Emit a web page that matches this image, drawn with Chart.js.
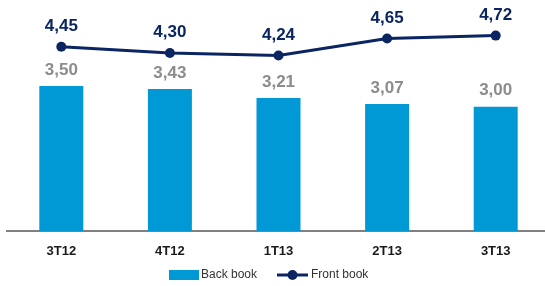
<!DOCTYPE html>
<html>
<head>
<meta charset="utf-8">
<script src="https://cdn.jsdelivr.net/npm/chart.js@4"></script>
<style>
  html, body { margin: 0; padding: 0; background: #fff; overflow: hidden; }
  #wrap { width: 545px; height: 286px; overflow: hidden; }
  canvas { display: block; }
</style>
</head>
<body>
<div id="wrap"><canvas id="chart" width="551" height="286"></canvas></div>
<script>
const quarters = ['3T12', '4T12', '1T13', '2T13', '3T13'];
const backBook = [3.50, 3.43, 3.21, 3.07, 3.00];
const frontBook = [4.45, 4.30, 4.24, 4.65, 4.72];

const BAR_BLUE = '#0099d6';
const NAVY = '#0a2562';
const FONT = "'Liberation Sans', Arial, sans-serif";

const fmt = v => v.toFixed(2).replace('.', ',');

// value labels above bars and points
const valueLabels = {
  id: 'valueLabels',
  afterDatasetsDraw(chart) {
    const ctx = chart.ctx;
    ctx.save();
    ctx.textAlign = 'center';
    ctx.textBaseline = 'middle';
    ctx.font = 'bold 17px ' + FONT;
    chart.data.datasets.forEach((ds, i) => {
      const meta = chart.getDatasetMeta(i);
      const isBar = ds.type === 'bar';
      ctx.fillStyle = isBar ? '#8c8c8c' : NAVY;
      meta.data.forEach((el, j) => {
        ctx.fillText(fmt(ds.data[j]), el.x, el.y - (isBar ? 16 : 20.5));
      });
    });
    ctx.restore();
  }
};

// legend drawn by hand: box for bars, line with dot for the line series
const bottomLegend = {
  id: 'bottomLegend',
  afterDraw(chart) {
    const ctx = chart.ctx;
    const y = 275;
    const [bars, line] = chart.data.datasets;
    ctx.save();
    ctx.font = '12px ' + FONT;
    ctx.textBaseline = 'middle';
    ctx.fillStyle = bars.backgroundColor;
    ctx.fillRect(169, y - 5, 30, 10);
    ctx.fillStyle = '#333';
    ctx.fillText(bars.label, 201, y);

    ctx.strokeStyle = line.borderColor;
    ctx.lineWidth = 3;
    ctx.beginPath();
    ctx.moveTo(277, y);
    ctx.lineTo(308, y);
    ctx.stroke();
    ctx.fillStyle = line.borderColor;
    ctx.beginPath();
    ctx.arc(292.5, y, 5, 0, Math.PI * 2);
    ctx.fill();
    ctx.fillStyle = '#333';
    ctx.fillText(line.label, 311, y);
    ctx.restore();
  }
};

new Chart(document.getElementById('chart'), {
  data: {
    labels: quarters,
    datasets: [
      {
        type: 'bar',
        label: 'Back book',
        data: backBook,
        backgroundColor: BAR_BLUE,
        barPercentage: 0.405,
        categoryPercentage: 1,
        order: 1,
      },
      {
        type: 'line',
        label: 'Front book',
        data: frontBook,
        borderColor: NAVY,
        backgroundColor: NAVY,
        borderWidth: 3,
        pointRadius: 5,
        pointBackgroundColor: NAVY,
        pointBorderWidth: 0,
        tension: 0,
        order: 0,
      }
    ]
  },
  options: {
    responsive: false,
    animation: false,
    devicePixelRatio: 1,
    layout: { autoPadding: false, padding: { left: 7, right: 1, top: 0, bottom: 13.4 } },
    plugins: {
      legend: { display: false },
      tooltip: { enabled: false },
    },
    scales: {
      x: {
        grid: { display: false, drawTicks: false },
        border: { display: true, color: '#808080', width: 2 },
        ticks: { padding: 13, color: '#1a1a1a', font: { family: FONT, size: 13, weight: 'bold' } },
      },
      y: {
        display: false,
        min: 0,
        max: 5.58,
      }
    }
  },
  plugins: [valueLabels, bottomLegend]
});
</script>
</body>
</html>
